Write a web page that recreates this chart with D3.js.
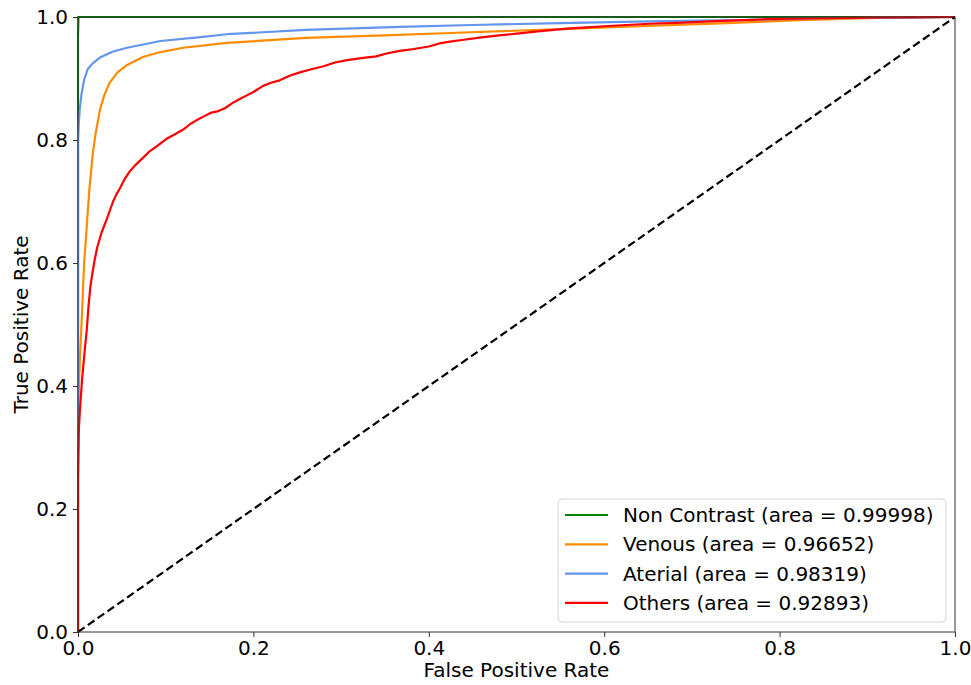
<!DOCTYPE html>
<html>
<head>
<meta charset="utf-8">
<script src="https://cdn.jsdelivr.net/npm/d3@7"></script>
<style>
  body { margin: 0; background: #fff; }
  svg { font-family: "DejaVu Sans", sans-serif; }
</style>
</head>
<body>
<div id="chart"></div>
<script>
// ROC curves, [fpr, tpr] pairs
const nonContrastRoc = [[0, 0], [0, 0.97], [0.0005, 1], [1, 1]];

const venousRoc = [
  [0, 0], [0, 0.33], [0.001, 0.40], [0.002, 0.44], [0.004, 0.5], [0.007, 0.6],
  [0.010, 0.66], [0.013, 0.72], [0.017, 0.78], [0.020, 0.81], [0.025, 0.849],
  [0.030, 0.873], [0.036, 0.893], [0.045, 0.91], [0.056, 0.922], [0.074, 0.935],
  [0.094, 0.943], [0.12, 0.950], [0.17, 0.958], [0.26, 0.966], [0.35, 0.970],
  [0.424, 0.974], [0.527, 0.979], [0.641, 0.985], [0.74, 0.99], [0.823, 0.995],
  [0.9, 0.998], [1, 1]
];

const aterialRoc = [
  [0, 0], [0, 0.6], [0, 0.8], [0.001, 0.83], [0.002, 0.85], [0.004, 0.875],
  [0.007, 0.898], [0.011, 0.915], [0.017, 0.925], [0.025, 0.934], [0.04, 0.944],
  [0.056, 0.950], [0.094, 0.961], [0.137, 0.967], [0.17, 0.972], [0.26, 0.979],
  [0.367, 0.984], [0.45, 0.987], [0.55, 0.990], [0.652, 0.993], [0.75, 0.995],
  [0.85, 0.998], [0.95, 0.999], [1, 1]
];

const othersRoc = [
  [0, 0], [0, 0.25], [0.001, 0.33], [0.002, 0.356], [0.0046, 0.41], [0.008, 0.463],
  [0.010, 0.491], [0.012, 0.53], [0.014, 0.56], [0.016, 0.58], [0.019, 0.605],
  [0.022, 0.626], [0.027, 0.650], [0.033, 0.672], [0.040, 0.700], [0.044, 0.712],
  [0.048, 0.722], [0.053, 0.736], [0.059, 0.749], [0.066, 0.760], [0.074, 0.771],
  [0.082, 0.782], [0.090, 0.790], [0.101, 0.802], [0.110, 0.809], [0.120, 0.817],
  [0.128, 0.826], [0.135, 0.832], [0.143, 0.838], [0.151, 0.844], [0.160, 0.847],
  [0.168, 0.852], [0.176, 0.860], [0.185, 0.867], [0.193, 0.873], [0.20, 0.878],
  [0.211, 0.888], [0.22, 0.893], [0.23, 0.897], [0.242, 0.905], [0.253, 0.910],
  [0.266, 0.915], [0.28, 0.920], [0.293, 0.926], [0.307, 0.930], [0.323, 0.933],
  [0.34, 0.936], [0.353, 0.941], [0.367, 0.945], [0.383, 0.948], [0.40, 0.952],
  [0.412, 0.957], [0.424, 0.960], [0.44, 0.963], [0.46, 0.967], [0.48, 0.970],
  [0.50, 0.973], [0.527, 0.977], [0.557, 0.981], [0.58, 0.983], [0.60, 0.985],
  [0.625, 0.987], [0.652, 0.989], [0.69, 0.991], [0.72, 0.993], [0.76, 0.995],
  [0.80, 0.997], [0.85, 0.998], [0.9, 0.999], [1, 1]
];

const chanceLine = [[0, 0], [1, 1]];

const seriesNames = ["Non Contrast", "Venous", "Aterial", "Others"];
const seriesAuc = ["0.99998", "0.96652", "0.98319", "0.92893"];
const seriesColors = ["green", "darkorange", "cornflowerblue", "red"];
const seriesData = [nonContrastRoc, venousRoc, aterialRoc, othersRoc];

const axisTicks = [0, 0.2, 0.4, 0.6, 0.8, 1.0];

const W = 971, H = 685;
const margin = { top: 17, right: 16, bottom: 53, left: 78 };
const width = W - margin.left - margin.right;
const height = H - margin.top - margin.bottom;
const fontSize = "20px";

const svg = d3.select("#chart").append("svg")
  .attr("width", W)
  .attr("height", H);

const g = svg.append("g")
  .attr("transform", `translate(${margin.left},${margin.top})`);

const x = d3.scaleLinear().domain([0, 1]).range([0, width]);
const y = d3.scaleLinear().domain([0, 1]).range([height, 0]);

const line = d3.line()
  .x(d => x(d[0]))
  .y(d => y(d[1]));

// clip so lines on the frame look like matplotlib
g.append("clipPath").attr("id", "plot-clip")
  .append("rect")
  .attr("x", -1).attr("y", -1)
  .attr("width", width + 2).attr("height", height + 2);

const plot = g.append("g").attr("clip-path", "url(#plot-clip)");

seriesData.forEach((d, i) => {
  plot.append("path")
    .datum(d)
    .attr("fill", "none")
    .attr("stroke", seriesColors[i])
    .attr("stroke-width", 2.2)
    .attr("stroke-linejoin", "round")
    .attr("d", line);
});

plot.append("path")
  .datum(chanceLine)
  .attr("fill", "none")
  .attr("stroke", "black")
  .attr("stroke-width", 2.2)
  .attr("stroke-dasharray", "8,4")
  .attr("d", line);

/** axes */
const fmt = d3.format(".1f");

const xAxis = g.append("g")
  .attr("transform", `translate(0,${height})`)
  .call(d3.axisBottom(x).tickValues(axisTicks).tickFormat(fmt).tickSize(5).tickPadding(4));

const yAxis = g.append("g")
  .call(d3.axisLeft(y).tickValues(axisTicks).tickFormat(fmt).tickSize(5).tickPadding(5));

[xAxis, yAxis].forEach(a => {
  a.select(".domain").remove();
  a.selectAll("text")
    .style("font-family", "DejaVu Sans, sans-serif")
    .style("font-size", fontSize)
    .attr("fill", "#000");
  a.selectAll("line").attr("stroke", "#333").attr("stroke-width", 1);
});

// frame
g.append("rect")
  .attr("x", 0).attr("y", 0)
  .attr("width", width).attr("height", height)
  .attr("fill", "none")
  .attr("stroke", "#333")
  .attr("stroke-width", 1);

// axis labels
svg.append("text")
  .attr("x", margin.left + width / 2)
  .attr("y", 677)
  .attr("text-anchor", "middle")
  .style("font-size", fontSize)
  .text("False Positive Rate");

svg.append("text")
  .attr("transform", `translate(28,${margin.top + height / 2}) rotate(-90)`)
  .attr("text-anchor", "middle")
  .style("font-size", fontSize)
  .text("True Positive Rate");

/** legend */
const legend = svg.append("g");

legend.append("rect")
  .attr("x", 558).attr("y", 499)
  .attr("width", 388).attr("height", 123)
  .attr("rx", 4).attr("ry", 4)
  .attr("fill", "rgba(255,255,255,0.8)")
  .attr("stroke", "#d6d6d6")
  .attr("stroke-width", 1);

seriesNames.forEach((name, i) => {
  const ly = 515 + i * 29.3;
  legend.append("line")
    .attr("x1", 565).attr("x2", 608)
    .attr("y1", ly).attr("y2", ly)
    .attr("stroke", seriesColors[i])
    .attr("stroke-width", 2.2);
  legend.append("text")
    .attr("x", 623)
    .attr("y", ly)
    .attr("dy", "0.35em")
    .style("font-size", fontSize)
    .text(`${name} (area = ${seriesAuc[i]})`);
});
</script>
</body>
</html>
